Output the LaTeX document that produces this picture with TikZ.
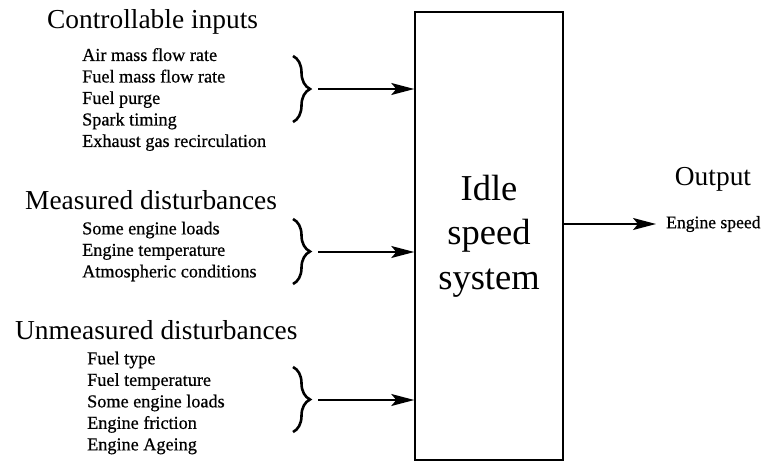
\documentclass[tikz,border=0pt]{standalone}
\usepackage{fontspec}
\setmainfont{Liberation Serif}
\newfontfamily\itemfont[FakeBold=0.6]{Liberation Serif}
\usetikzlibrary{arrows.meta,decorations.pathreplacing}
\begin{document}
\begin{tikzpicture}[x=1pt,y=-1pt,
  heading/.style={anchor=west,inner sep=0pt,font=\fontsize{27.4}{30}\selectfont},
  item/.style={anchor=west,inner sep=0pt,font=\itemfont\fontsize{18.2}{21.5}\selectfont,align=left},
  bracestyle/.style={decorate,decoration={brace,amplitude=17pt,aspect=0.5},line width=2.6pt},
  arr/.style={line width=1.5pt,-{Stealth[length=23pt,width=12pt,inset=5pt]}}]
\useasboundingbox (0,0) rectangle (766,461);

% central block
\node[draw,line width=1.5pt,minimum width=148pt,minimum height=448pt,inner sep=0pt,
      align=center,font=\fontsize{36.5}{44.5}\selectfont] (box) at (489,236)
  {Idle\\speed\\system};

% group headings
\node[heading] (hctrl) at (47,22) {Controllable inputs};
\node[heading] (hmeas) at (25,200) {Measured disturbances};
\node[heading] (hunme) at (15,330) {Unmeasured disturbances};

% item lists
\node[item] (lctrl) at (82,99.5) {Air mass flow rate\\Fuel mass flow rate\\Fuel purge\\Spark timing\\Exhaust gas recirculation};
\node[item] (lmeas) at (82,251.5) {Some engine loads\\Engine temperature\\Atmospheric conditions};
\node[item] (lunme) at (87,403) {Fuel type\\Fuel temperature\\Some engine loads\\Engine friction\\Engine Ageing};

% braces and their tips
\draw[bracestyle] (293,56) -- (293,122);
\coordinate (c1) at (318,89);
\draw[bracestyle] (293,219) -- (293,284);
\coordinate (c2) at (318,252);
\draw[bracestyle] (293,367) -- (293,432);
\coordinate (c3) at (318,400);

% inputs into the block
\draw[arr] (c1) -- (c1 -| box.west);
\draw[arr] (c2) -- (c2 -| box.west);
\draw[arr] (c3) -- (c3 -| box.west);

% output side
\node[inner sep=0pt,font=\fontsize{27.4}{30}\selectfont] (hout) at (713,179) {Output};
\node[anchor=west,inner sep=0pt,font=\itemfont\fontsize{17.6}{20}\selectfont] (lout) at (666,224) {Engine speed};
\coordinate (o1) at (box.east |- lout.west);
\draw[arr] (o1) -- ([xshift=-10pt]lout.west);
\end{tikzpicture}
\end{document}
